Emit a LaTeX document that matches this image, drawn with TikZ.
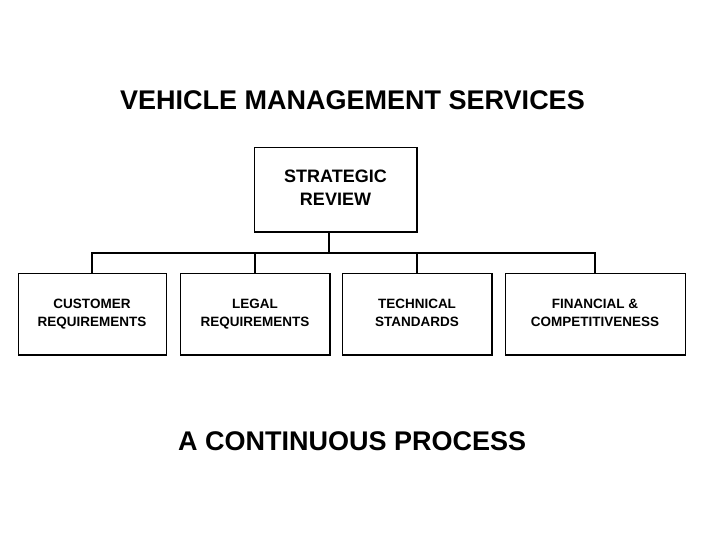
\documentclass[tikz,border=0pt]{standalone}
\usepackage{fontspec}
\setmainfont{Liberation Sans}
\usetikzlibrary{calc}

\begin{document}
\begin{tikzpicture}[x=1pt, y=-1pt,
  box/.style={draw, line width=0.9pt, inner sep=0pt, align=center,
    font=\bfseries\fontsize{13.5}{18}\selectfont},
  bigbox/.style={box, font=\bfseries\fontsize{18}{23}\selectfont},
  link/.style={line width=1.5pt},
  headline/.style={anchor=base west, inner sep=0pt,
    font=\bfseries\fontsize{27}{30}\selectfont}]
  \useasboundingbox (0,0) rectangle (720,540);
  \node[headline] (title) at (120,110) {VEHICLE MANAGEMENT SERVICES};
  \node[bigbox, minimum width=162, minimum height=84] (review) at (335.5,189.5) {\strut STRATEGIC\\REVIEW\strut};
  \node[box, minimum width=148, minimum height=81] (cust) at (92,314) {\strut CUSTOMER\\REQUIREMENTS\strut};
  \node[box, minimum width=149, minimum height=81] (legal) at (255,314) {\strut LEGAL\\REQUIREMENTS\strut};
  \node[box, minimum width=149, minimum height=81] (tech) at (417,314) {\strut TECHNICAL\\STANDARDS\strut};
  \node[box, minimum width=180, minimum height=81] (fin) at (595,314) {\strut FINANCIAL \&\\COMPETITIVENESS\strut};
  % heavier right and bottom edges
  \foreach \b in {review, cust, legal, tech, fin}
    \draw[line width=1.5pt] (\b.north east) -- (\b.south east) -- (\b.south west);
  % tree lines
  \coordinate (stem) at (329,231.5);
  \coordinate (bus) at (335,253);
  \draw[link] (stem) -- (stem |- bus);
  \draw[link] (cust.north) -- (cust.north |- bus) -- (fin.north |- bus) -- (fin.north);
  \draw[link] (legal.north |- bus) -- (legal.north);
  \draw[link] (tech.north |- bus) -- (tech.north);
  \node[headline] (motto) at (178,450) {A CONTINUOUS PROCESS};
\end{tikzpicture}
\end{document}
